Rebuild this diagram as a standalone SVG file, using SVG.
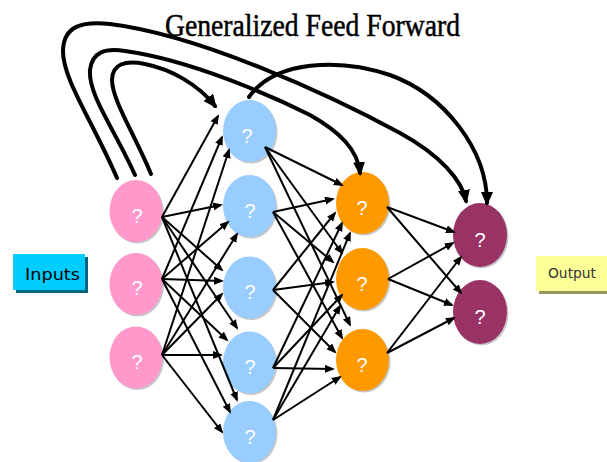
<svg xmlns="http://www.w3.org/2000/svg" width="607" height="462" viewBox="0 0 607 462">
  <defs>
    <marker id="arrow" markerUnits="userSpaceOnUse" markerWidth="11" markerHeight="9" refX="8" refY="4" orient="auto">
      <path d="M0,0 L10,4 L0,8 z" fill="#000"/>
    </marker>
    <marker id="arrowBig" markerUnits="userSpaceOnUse" markerWidth="15" markerHeight="13" refX="11" refY="6" orient="auto">
      <path d="M0,0 L14,6 L0,12 z" fill="#000"/>
    </marker>
  </defs>
  <style>
    .title { font-family: "Liberation Serif", "Times New Roman", serif; font-size: 31px; fill: #000; stroke: #000; stroke-width: 0.5; }
    .shadow { fill: #000; opacity: 0.22; }
    .in { fill: #FF99CC; }
    .hid { fill: #99CCFF; }
    .mid { fill: #FF9900; }
    .out { fill: #993366; }
    .q { font-family: "Liberation Sans", Arial, sans-serif; font-size: 20px; fill: #FFFFFF; text-anchor: middle; }
    .lbl { font-family: "DejaVu Sans", "Liberation Sans", sans-serif; }
    .w { fill: none; stroke: #000; stroke-width: 2; marker-end: url(#arrow); }
    .thick { fill: none; stroke: #000; stroke-width: 4; stroke-linecap: round; marker-end: url(#arrowBig); }
  </style>

  <rect width="607" height="462" fill="#FFFFFF"/>

  <text class="title" x="165" y="36" textLength="295" lengthAdjust="spacingAndGlyphs">Generalized Feed Forward</text>

  <!-- side labels -->
  <g id="inputs-label">
    <rect x="16" y="257" width="72" height="36" fill="#006680"/>
    <rect x="13" y="254" width="72" height="36" fill="#00CCFF"/>
    <text class="lbl" x="25" y="280" font-size="16" textLength="55" lengthAdjust="spacingAndGlyphs" fill="#000">Inputs</text>
  </g>
  <g id="output-label">
    <rect x="539" y="259" width="72" height="35" fill="#99995C"/>
    <rect x="536" y="256" width="72" height="35" fill="#FFFF99"/>
    <text class="lbl" x="548" y="278" font-size="14" textLength="48" lengthAdjust="spacingAndGlyphs" fill="#333333">Output</text>
  </g>

  <!-- input layer -->
  <g id="in1"><ellipse class="shadow" cx="137.5" cy="212.5" rx="26.5" ry="31"/><ellipse class="in" cx="136" cy="211" rx="26.5" ry="31"/><text class="q" x="137" y="223">?</text></g>
  <g id="in2"><ellipse class="shadow" cx="137.5" cy="285.5" rx="26.5" ry="31"/><ellipse class="in" cx="136" cy="284" rx="26.5" ry="31"/><text class="q" x="137" y="295">?</text></g>
  <g id="in3"><ellipse class="shadow" cx="137.5" cy="359" rx="26.5" ry="31"/><ellipse class="in" cx="136" cy="357.5" rx="26.5" ry="31"/><text class="q" x="137" y="369">?</text></g>

  <!-- hidden layer 1 -->
  <g id="h1"><ellipse class="shadow" cx="251" cy="132.5" rx="26.5" ry="31"/><ellipse class="hid" cx="249.5" cy="131" rx="26.5" ry="31"/><text class="q" x="247" y="143">?</text></g>
  <g id="h2"><ellipse class="shadow" cx="251" cy="207.5" rx="26.5" ry="31"/><ellipse class="hid" cx="249.5" cy="206" rx="26.5" ry="31"/><text class="q" x="250" y="218">?</text></g>
  <g id="h3"><ellipse class="shadow" cx="251" cy="289" rx="26.5" ry="31"/><ellipse class="hid" cx="249.5" cy="287.5" rx="26.5" ry="31"/><text class="q" x="250" y="299">?</text></g>
  <g id="h4"><ellipse class="shadow" cx="251" cy="364" rx="26.5" ry="31"/><ellipse class="hid" cx="249.5" cy="362.5" rx="26.5" ry="31"/><text class="q" x="250" y="374">?</text></g>
  <g id="h5"><ellipse class="shadow" cx="251" cy="433.5" rx="26.5" ry="31"/><ellipse class="hid" cx="249.5" cy="432" rx="26.5" ry="31"/><text class="q" x="250" y="444">?</text></g>

  <!-- hidden layer 2 -->
  <g id="m1"><ellipse class="shadow" cx="364" cy="204.5" rx="26.5" ry="31"/><ellipse class="mid" cx="362.5" cy="203" rx="26.5" ry="31"/><text class="q" x="362" y="215">?</text></g>
  <g id="m2"><ellipse class="shadow" cx="364" cy="280.5" rx="26.5" ry="31"/><ellipse class="mid" cx="362.5" cy="279" rx="26.5" ry="31"/><text class="q" x="362" y="291">?</text></g>
  <g id="m3"><ellipse class="shadow" cx="364" cy="361.5" rx="26.5" ry="31"/><ellipse class="mid" cx="362.5" cy="360" rx="26.5" ry="31"/><text class="q" x="362" y="372">?</text></g>

  <!-- output layer -->
  <g id="o1"><ellipse class="shadow" cx="481.5" cy="236.5" rx="27" ry="32"/><ellipse class="out" cx="480" cy="235" rx="27" ry="32"/><text class="q" x="480" y="247" fill="#F0F0F0">?</text></g>
  <g id="o2"><ellipse class="shadow" cx="481.5" cy="313.5" rx="27" ry="32"/><ellipse class="out" cx="480" cy="312" rx="27" ry="32"/><text class="q" x="480" y="324" fill="#F0F0F0">?</text></g>

  <g id="connectors">
    <!-- input to hidden 1 -->
    <path class="w" d="M162,217 L218,116"/>
    <path class="w" d="M162,279 L222,137"/>
    <path class="w" d="M162,355 L229,150"/>
    <path class="w" d="M162,217 L221,205"/>
    <path class="w" d="M162,279 L228,222"/>
    <path class="w" d="M162,355 L237,234"/>
    <path class="w" d="M162,217 L222,270"/>
    <path class="w" d="M162,279 L222,281"/>
    <path class="w" d="M162,355 L222,294"/>
    <path class="w" d="M162,217 L237,328"/>
    <path class="w" d="M162,279 L227,340"/>
    <path class="w" d="M162,355 L221,355"/>
    <path class="w" d="M162,217 L237,400"/>
    <path class="w" d="M162,279 L230,412"/>
    <path class="w" d="M162,355 L222,432"/>

    <!-- hidden 1 to hidden 2 -->
    <path class="w" d="M265,147 L342,185"/>
    <path class="w" d="M273,212 L333,199"/>
    <path class="w" d="M273,290 L335,213"/>
    <path class="w" d="M273,368 L342,223"/>
    <path class="w" d="M273,420 L350,233"/>
    <path class="w" d="M265,147 L342,253"/>
    <path class="w" d="M273,212 L333,262"/>
    <path class="w" d="M273,290 L333,282"/>
    <path class="w" d="M273,368 L342,295"/>
    <path class="w" d="M273,420 L340,306"/>
    <path class="w" d="M265,147 L350,325"/>
    <path class="w" d="M273,212 L342,338"/>
    <path class="w" d="M273,290 L335,352"/>
    <path class="w" d="M273,368 L333,369"/>
    <path class="w" d="M273,420 L340,377"/>

    <!-- hidden 2 to output -->
    <path class="w" d="M387,207 L454,232"/>
    <path class="w" d="M387,207 L461,293"/>
    <path class="w" d="M388,279 L453,243"/>
    <path class="w" d="M388,279 L452,305"/>
    <path class="w" d="M387,353 L461,257"/>
    <path class="w" d="M387,353 L454,318"/>

    <!-- skip connections -->
    <path class="thick" d="M117,178 C92,120 62,78 63,50 C64,26 82,21 110,24 C200,35 330,95 400,133 C440,155 462,180 466,201"/>
    <path class="thick" d="M135,175 C115,130 88,95 90,70 C92,52 105,48 125,51 C190,60 270,95 310,115 C340,132 358,150 360,173"/>
    <path class="thick" d="M151,174 C135,135 112,100 112,80 C112,64 125,60 145,64 C170,69 198,84 215,106"/>
    <path class="thick" d="M249,97 C275,60 340,58 390,75 C445,95 487,150 487,203"/>
  </g>
</svg>
